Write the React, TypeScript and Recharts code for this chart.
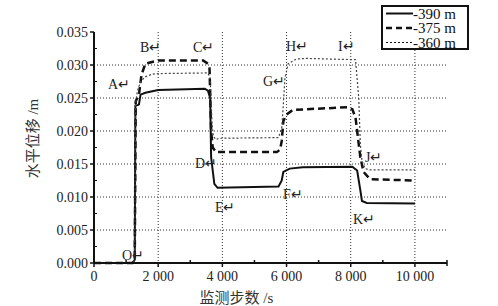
import { LineChart, Line, XAxis, YAxis, CartesianGrid, Legend, ReferenceDot } from "recharts";

// horizontal displacement at three depths
const steps390 = [0, 1200, 1270, 1290, 1400, 1450, 1600, 2000, 3450, 3550, 3620, 3650, 3700, 3750, 3850, 5750, 5850, 5900, 6100, 6500, 8050, 8200, 8300, 8350, 8500, 10000];
const disp390 = [0, 0, 0.0005, 0.0238, 0.024, 0.0255, 0.0258, 0.0262, 0.0264, 0.0261, 0.025, 0.016, 0.014, 0.012, 0.0114, 0.0116, 0.0125, 0.0138, 0.0143, 0.0145, 0.0146, 0.014, 0.011, 0.0094, 0.0091, 0.009];

const steps375 = [0, 1200, 1270, 1300, 1400, 1480, 1600, 2000, 3400, 3550, 3600, 3650, 3700, 3800, 5700, 5800, 5850, 5900, 6000, 6200, 7900, 8050, 8150, 8200, 8300, 8400, 8600, 10000];
const disp375 = [0, 0, 0.0005, 0.0245, 0.0255, 0.0285, 0.0302, 0.0307, 0.0307, 0.0302, 0.0295, 0.02, 0.0175, 0.0168, 0.0168, 0.0172, 0.0185, 0.0215, 0.0225, 0.0232, 0.0236, 0.0233, 0.022, 0.02, 0.016, 0.0138, 0.0127, 0.0125];

const steps360 = [0, 1200, 1270, 1290, 1350, 1450, 1600, 1800, 2000, 3550, 3620, 3680, 3720, 3800, 3900, 5750, 5850, 5900, 5950, 6050, 6300, 6600, 8150, 8250, 8300, 8350, 8450, 8600, 10000];
const disp360 = [0, 0, 0.0005, 0.024, 0.026, 0.0275, 0.0282, 0.0286, 0.0287, 0.0288, 0.028, 0.021, 0.0192, 0.0187, 0.0189, 0.019, 0.0205, 0.024, 0.028, 0.0302, 0.0309, 0.031, 0.0308, 0.025, 0.018, 0.0155, 0.0143, 0.0141, 0.0141];

// point labels (left edge of text, vertical centre)
const pointNames = ["O", "A", "B", "C", "D", "E", "F", "G", "H", "I", "J", "K"];
const pointSteps = [872, 436, 1433, 3084, 3146, 3769, 5888, 5265, 5981, 7601, 8442, 8069];
const pointValues = [0.0012, 0.0271, 0.0327, 0.0327, 0.0152, 0.0085, 0.0104, 0.0275, 0.0329, 0.0329, 0.016, 0.0067];

const xTicks = [0, 1000, 2000, 3000, 4000, 5000, 6000, 7000, 8000, 9000, 10000, 11000];
const yTicks = [0, 0.0025, 0.005, 0.0075, 0.01, 0.0125, 0.015, 0.0175, 0.02, 0.0225, 0.025, 0.0275, 0.03, 0.0325, 0.035];

const seriesNames = ["-390 m", "-375 m", "-360 m"];

const SERIF = "'Liberation Serif', 'Times New Roman', serif";
const CJK = "'Liberation Serif', 'Noto Sans CJK SC', serif";

const zip = (xs: number[], ys: number[]) => xs.map((t, i) => ({ t, v: ys[i] }));

const data390 = zip(steps390, disp390);
const data375 = zip(steps375, disp375);
const data360 = zip(steps360, disp360);

const isMajorY = (v: number) => Math.abs(v / 0.005 - Math.round(v / 0.005)) < 1e-6;
const isMajorX = (v: number) => v % 2000 === 0;

function YTick({ x, y, payload }: any) {
  const v = payload.value;
  if (!isMajorY(v)) {
    return <line x1={x} x2={x + 3} y1={y} y2={y} stroke="#111" strokeWidth={1} />;
  }
  return (
    <g>
      <line x1={x - 4} x2={x} y1={y} y2={y} stroke="#111" strokeWidth={1.5} />
      <text x={x - 6} y={y + 5} textAnchor="end" fontFamily={SERIF} fontSize={14} fill="#222">
        {v.toFixed(3)}
      </text>
    </g>
  );
}

function XTick({ x, y, payload }: any) {
  const v = payload.value;
  if (!isMajorX(v) || v > 10000) {
    return <line x1={x} x2={x} y1={y - 3} y2={y + (v > 10000 ? 3 : 0)} stroke="#111" strokeWidth={1.5} />;
  }
  const label = v >= 1000 ? `${Math.floor(v / 1000)} ${String(v % 1000).padStart(3, "0")}` : String(v);
  return (
    <g>
      <line x1={x} x2={x} y1={y} y2={y + 4} stroke="#111" strokeWidth={1.5} />
      <text x={x} y={y + 18} textAnchor="middle" fontFamily={SERIF} fontSize={14} fill="#222">
        {label}
      </text>
    </g>
  );
}

function YTitle({ viewBox }: any) {
  const cx = viewBox.x + 33;
  const cy = viewBox.y + viewBox.height / 2 - 9;
  return (
    <text x={cx} y={cy} transform={`rotate(-90, ${cx}, ${cy})`} textAnchor="middle" dominantBaseline="central" fontFamily={CJK} fontSize={15} fill="#333">
      水平位移 /m
    </text>
  );
}

function XTitle({ viewBox }: any) {
  const cx = viewBox.x + viewBox.width / 2 - 34;
  return (
    <text x={cx} y={viewBox.y + 40} textAnchor="middle" fontFamily={CJK} fontSize={15} fill="#333">
      监测步数 /s
    </text>
  );
}

function LegendBox() {
  const rows = [
    { dash: undefined, w: 2 },
    { dash: "6 4", w: 2.5 },
    { dash: "2 2", w: 1 },
  ];
  return (
    <svg width={88} height={46} style={{ display: "block" }}>
      <rect x={1} y={1} width={86} height={43} fill="#fff" stroke="#111" strokeWidth={2} />
      {rows.map((r, i) => {
        const cy = 8.5 + i * 14.5;
        return (
          <g key={i}>
            <line x1={5} x2={32} y1={cy} y2={cy} stroke="#111" strokeWidth={r.w} strokeDasharray={r.dash} />
            <text x={32} y={cy + 5} fontFamily={SERIF} fontSize={15} fill="#111">
              {seriesNames[i]}
            </text>
          </g>
        );
      })}
    </svg>
  );
}

export default function App() {
  return (
    <div style={{ position: "absolute", left: 0, top: 0, background: "#fff" }}>
      <LineChart width={498} height={306} margin={{ top: 32, right: 51, bottom: 13, left: 0 }}>
        <CartesianGrid
          stroke="#333"
          strokeDasharray="1 2"
          horizontalValues={[0.005, 0.01, 0.015, 0.02, 0.025, 0.03]}
          verticalValues={[2000, 4000, 6000, 8000, 10000]}
        />
        <XAxis
          type="number"
          dataKey="t"
          domain={[0, 11000]}
          ticks={xTicks}
          interval={0}
          height={30}
          tickSize={0}
          tickMargin={0}
          tickLine={false}
          tick={<XTick />}
          axisLine={{ stroke: "#111", strokeWidth: 2 }}
          label={<XTitle />}
          allowDuplicatedCategory={false}
        />
        <YAxis
          type="number"
          domain={[0, 0.035]}
          ticks={yTicks}
          interval={0}
          width={94}
          tickSize={0}
          tickMargin={0}
          tickLine={false}
          tick={<YTick />}
          axisLine={{ stroke: "#111", strokeWidth: 2 }}
          label={<YTitle />}
        />
        <Legend
          layout="vertical"
          align="center"
          verticalAlign="middle"
          content={<LegendBox />}
          wrapperStyle={{ position: "absolute", left: 381, top: 5, width: 88, height: 46 }}
        />
        <Line data={data390} dataKey="v" name={seriesNames[0]} type="linear" stroke="#111" strokeWidth={2} dot={false} isAnimationActive={false} />
        <Line data={data375} dataKey="v" name={seriesNames[1]} type="linear" stroke="#111" strokeWidth={2.5} strokeDasharray="7 4" dot={false} isAnimationActive={false} />
        <Line data={data360} dataKey="v" name={seriesNames[2]} type="linear" stroke="#444" strokeWidth={1.2} strokeDasharray="2 2" dot={false} isAnimationActive={false} />
        {pointNames.map((n, i) => (
          <ReferenceDot
            key={n}
            x={pointSteps[i]}
            y={pointValues[i]}
            r={0}
            ifOverflow="visible"
            label={{ value: `${n}↵`, position: "right", offset: 0, fontFamily: SERIF, fontSize: 14, fill: "#222" }}
          />
        ))}
      </LineChart>
    </div>
  );
}
